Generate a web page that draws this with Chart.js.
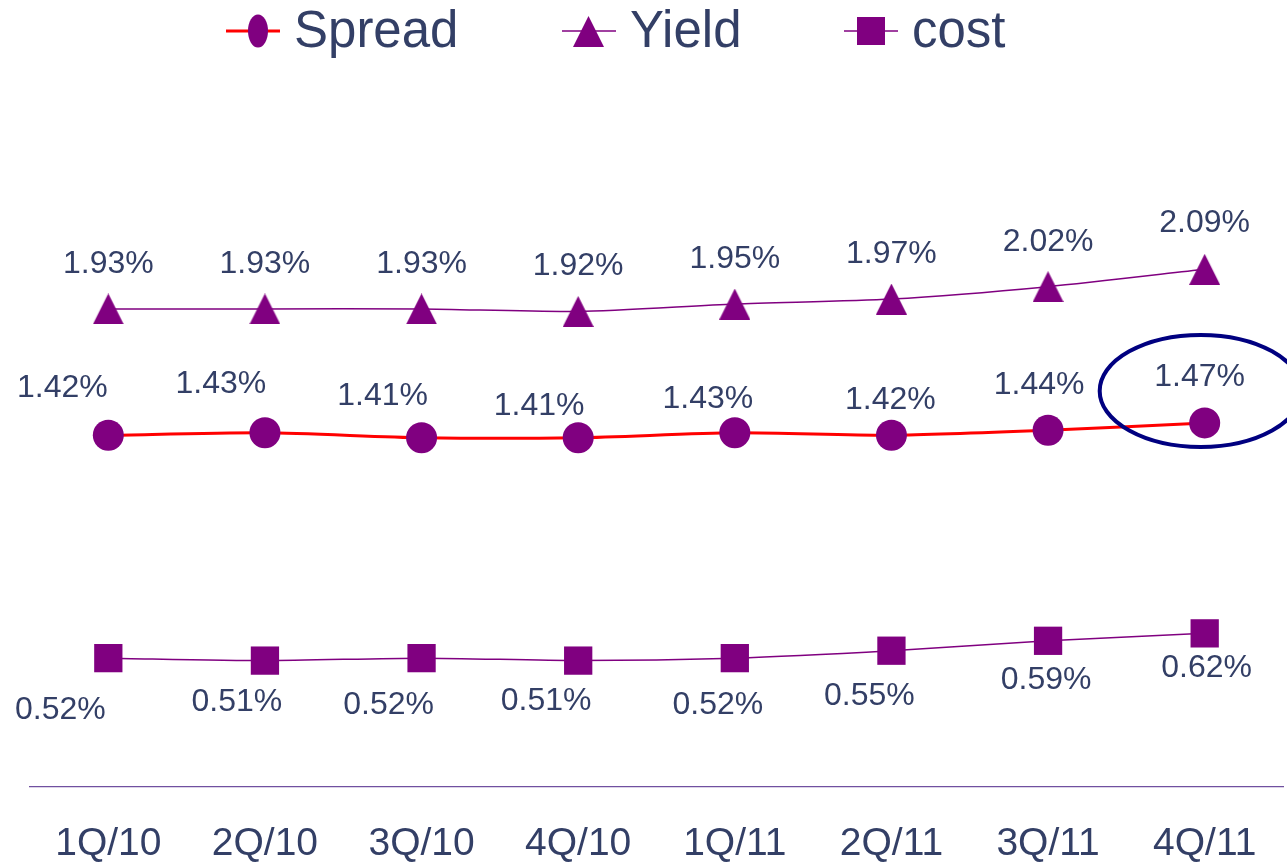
<!DOCTYPE html>
<html>
<head>
    <meta charset="UTF-8">
    <title>Spread</title>
    <script src="https://cdn.jsdelivr.net/npm/chart.js@4.4.0/dist/chart.umd.min.js"></script>
</head>
<style>
    body { margin: 0; background: #fff; }
</style>
<body>
    <canvas id="wykres" width="1287" height="862"></canvas>

    <script>
        // data
        var quarters = ['1Q/10', '2Q/10', '3Q/10', '4Q/10', '1Q/11', '2Q/11', '3Q/11', '4Q/11'];
        var spread = [1.42, 1.43, 1.41, 1.41, 1.43, 1.42, 1.44, 1.47];
        var yieldVals = [1.93, 1.93, 1.93, 1.92, 1.95, 1.97, 2.02, 2.09];
        var cost = [0.52, 0.51, 0.52, 0.51, 0.52, 0.55, 0.59, 0.62];

        var purple = '#800080';
        var textColor = '#333f66';
        var fontFamily = 'Arial, "Liberation Sans", sans-serif';

        // triangle marker, 31 x 31, centred on the point
        function triangleImg(w, h) {
            var c = document.createElement('canvas');
            c.width = w; c.height = h;
            var g = c.getContext('2d');
            g.fillStyle = purple;
            g.beginPath();
            g.moveTo(w / 2, 0);
            g.lineTo(w, h);
            g.lineTo(0, h);
            g.closePath();
            g.fill();
            return c;
        }
        var tri = triangleImg(31, 31);

        // label offsets (label centre relative to point), per dataset
        var labelOffsets = [
            [[-46, -49], [-44, -51], [-39, -44], [-39, -34], [-27, -36], [-1, -37], [-9, -47], [-5, -48]],
            [[0, -47], [0, -47], [0, -47], [0, -47], [0, -47], [0, -47], [0, -47], [0, -48]],
            [[-48, 50], [-28, 40], [-33, 45], [-32, 39], [-17, 45], [-22, 43], [-2, 37], [2, 33]]
        ];

        var valueLabels = {
            id: 'valueLabels',
            afterDatasetsDraw: function (chart) {
                var ctx = chart.ctx;
                ctx.save();
                ctx.font = '32px ' + fontFamily;
                ctx.fillStyle = textColor;
                ctx.textAlign = 'center';
                ctx.textBaseline = 'middle';
                chart.data.datasets.forEach(function (ds, di) {
                    var meta = chart.getDatasetMeta(di);
                    meta.data.forEach(function (pt, i) {
                        var off = labelOffsets[di][i];
                        ctx.fillText(ds.data[i].toFixed(2) + '%', pt.x + off[0], pt.y + off[1] + 2);
                    });
                });
                ctx.restore();
            }
        };

        // navy ellipse round the last spread value
        var highlight = {
            id: 'highlight',
            afterDatasetsDraw: function (chart) {
                var pt = chart.getDatasetMeta(0).data[spread.length - 1];
                var ctx = chart.ctx;
                ctx.save();
                ctx.strokeStyle = '#000080';
                ctx.lineWidth = 4;
                ctx.beginPath();
                ctx.ellipse(pt.x - 4, pt.y - 32, 101, 56, 0, 0, Math.PI * 2);
                ctx.stroke();
                ctx.restore();
            }
        };

        // legend: line through the marker, then the name
        var legendItems = [
            { x: 226, name: 'Spread', line: '#ff0000', lw: 3, marker: 'ellipse' },
            { x: 562, name: 'Yield', line: purple, lw: 1.5, marker: 'triangle' },
            { x: 844, name: 'cost', line: purple, lw: 1.5, marker: 'square' }
        ];
        var topLegend = {
            id: 'topLegend',
            afterDraw: function (chart) {
                var ctx = chart.ctx;
                var y = 31;
                ctx.save();
                legendItems.forEach(function (it) {
                    ctx.strokeStyle = it.line;
                    ctx.lineWidth = it.lw;
                    ctx.beginPath();
                    ctx.moveTo(it.x, y);
                    ctx.lineTo(it.x + 54, y);
                    ctx.stroke();
                    var cx = it.x + 27 + (it.marker === 'ellipse' ? 5 : 0);
                    ctx.fillStyle = purple;
                    if (it.marker === 'ellipse') {
                        ctx.beginPath();
                        ctx.ellipse(cx, y, 10, 16.5, 0, 0, Math.PI * 2);
                        ctx.fill();
                    } else if (it.marker === 'triangle') {
                        ctx.drawImage(tri, cx - 16, y - 15);
                    } else {
                        ctx.fillRect(cx - 14, y - 14, 28, 28);
                    }
                    ctx.fillStyle = textColor;
                    ctx.font = '51px ' + fontFamily;
                    ctx.textAlign = 'left';
                    ctx.textBaseline = 'middle';
                    ctx.fillText(it.name, it.x + 68, y + 2);
                });
                ctx.restore();
            }
        };

        var ctx = document.getElementById('wykres');
        new Chart(ctx, {
            type: 'line',
            data: {
                labels: quarters,
                datasets: [{
                    label: 'Spread',
                    data: spread,
                    borderColor: '#ff0000',
                    borderWidth: 3,
                    tension: 0.25,
                    pointStyle: 'circle',
                    pointRadius: 15.5,
                    pointBackgroundColor: purple,
                    pointBorderWidth: 0,
                    clip: false
                }, {
                    label: 'Yield',
                    data: yieldVals,
                    borderColor: purple,
                    borderWidth: 1.5,
                    tension: 0.25,
                    pointStyle: tri,
                    pointRadius: 16,
                    clip: false
                }, {
                    label: 'cost',
                    data: cost,
                    borderColor: purple,
                    borderWidth: 1.5,
                    tension: 0.25,
                    pointStyle: 'rect',
                    pointRadius: 20,
                    pointBackgroundColor: purple,
                    pointBorderWidth: 0,
                    clip: false
                }]
            },
            options: {
                responsive: false,
                animation: false,
                layout: { autoPadding: false, padding: { left: 30, right: 4, top: 44, bottom: -39 } },
                plugins: {
                    legend: { display: false },
                    tooltip: { enabled: false }
                },
                scales: {
                    x: {
                        offset: true,
                        grid: { display: false, drawTicks: false, offset: true },
                        border: { display: true, color: '#7050a0', width: 1.2 },
                        ticks: {
                            color: textColor,
                            padding: 20,
                            font: { size: 39, family: fontFamily, lineHeight: 1.9 }
                        }
                    },
                    y: {
                        display: false,
                        min: 0,
                        max: 3
                    }
                }
            },
            plugins: [valueLabels, highlight, topLegend]
        });
    </script>
</body>
</html>
